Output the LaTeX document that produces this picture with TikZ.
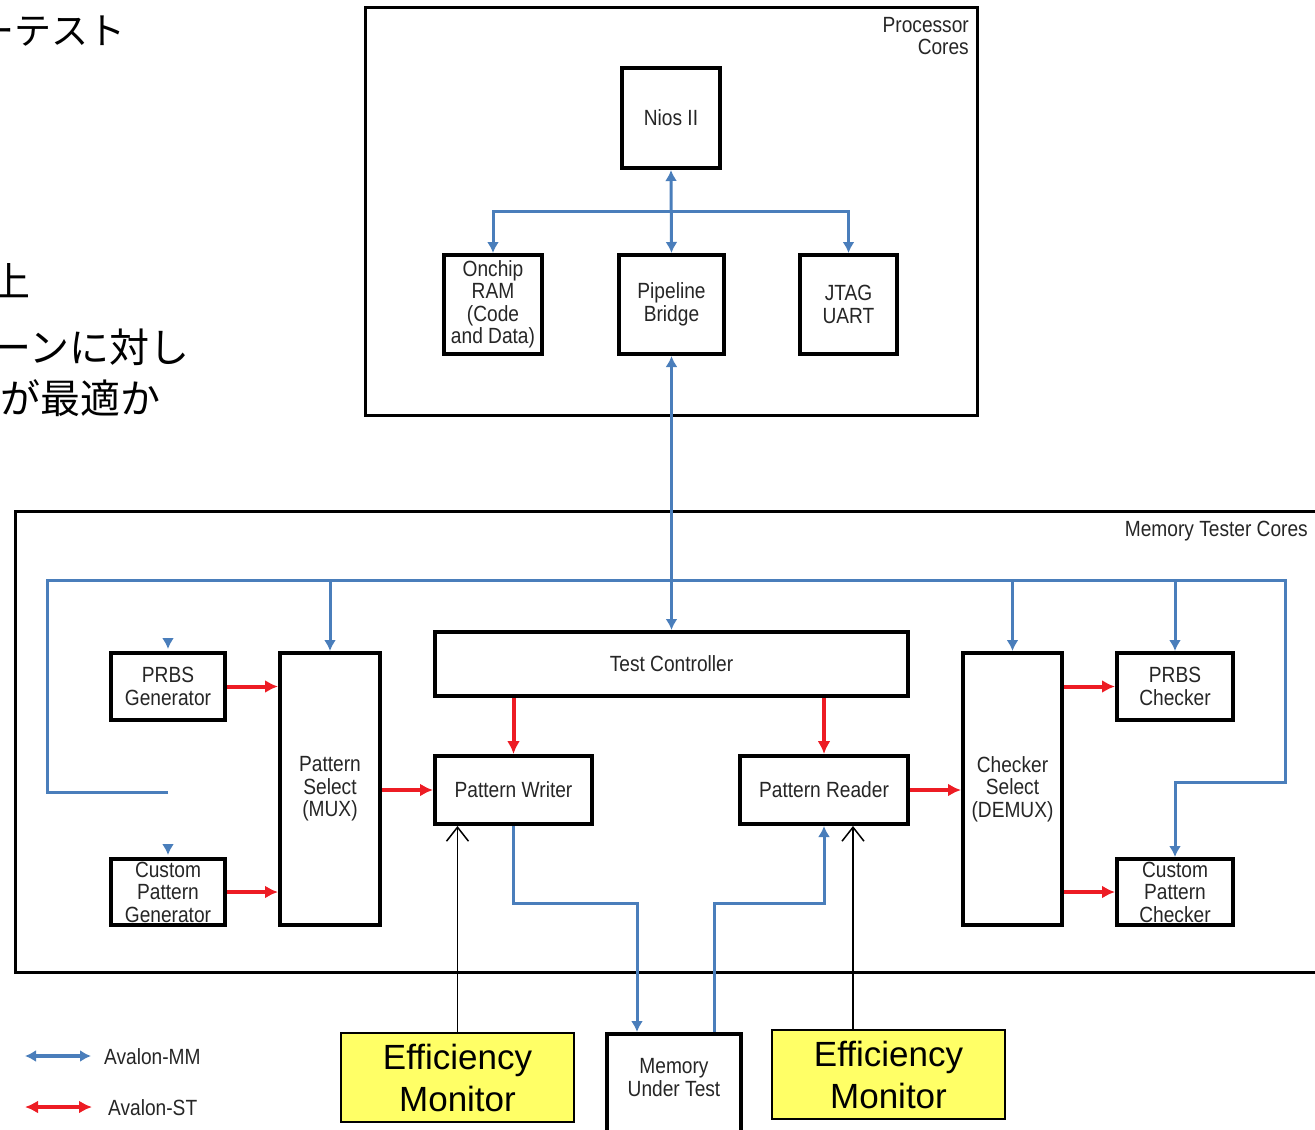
\documentclass[tikz,border=0pt]{standalone}
\usepackage{fontspec}
\setmainfont{Liberation Sans}
\newfontfamily\lblfont{Liberation Sans}[FakeStretch=0.87]
\newfontfamily\jpfont{Noto Sans CJK JP}
\usetikzlibrary{arrows.meta}
\definecolor{mmblue}{RGB}{74,126,187}
\definecolor{stred}{RGB}{237,28,36}
\definecolor{emyellow}{RGB}{255,255,102}
\begin{document}
\begin{tikzpicture}[x=1pt,y=-1pt,
  box/.style={draw=black,line width=4pt,fill=white,inner sep=0pt,align=center,
    font=\lblfont\fontsize{22}{22.5}\selectfont,text=black!85},
  sz/.style 2 args={minimum width=#1pt,minimum height=#2pt},
  lbl/.style={inner sep=0pt,font=\lblfont\fontsize{22}{22.5}\selectfont,text=black!85},
  embox/.style={draw=black,line width=2pt,fill=emyellow,inner sep=0pt,align=center,
    font=\fontsize{35}{42}\selectfont},
  jp/.style={inner sep=0pt,font=\jpfont\fontsize{40}{44}\selectfont,anchor=east},
  outer/.style={draw=black,line width=3pt},
  mm/.style={draw=mmblue,line width=3pt,>={Latex[length=11pt,width=12pt]}},
  st/.style={draw=stred,line width=4pt,>={Latex[length=13pt,width=13pt]}},
  mon/.style={draw=black,line width=1.5pt,>={Straight Barb[length=14pt,width=22pt]}}
]
\useasboundingbox (0,0) rectangle (1315,1130);

% Japanese slide text (cut off at the left edge, as in the slide)
\node[jp,font=\jpfont\fontsize{37}{40}\selectfont] (jp1) at (126,31) {ーテスト};
\node[jp] (jp2) at (31,281) {上};
\node[jp] (jp3) at (190,347) {ーンに対し};
\node[jp] (jp4) at (161,398) {が最適か};

% outer containers
\draw[outer] (365,7) rectangle (977,415);
\draw[outer] (15,511) rectangle (1330,972);
\node[lbl,anchor=east,align=right] (proclbl) at (969,36) {Processor\\Cores};
\node[lbl,anchor=east] (memlbl) at (1308,531) {Memory Tester Cores};

% processor cores
\node[box,sz={98}{100}] (nios) at (671,118) {Nios II};
\node[box,sz={98}{99}] (ram) at (493,304.5) {Onchip\\RAM\\(Code\\and Data)};
\node[box,sz={105}{99}] (bridge) at (671.5,304.5) {Pipeline\\Bridge};
\node[box,sz={97}{99}] (jtag) at (848.5,304.5) {JTAG\\UART};

% memory tester cores
\node[box,sz={114}{67}] (prbsgen) at (168,686.5) {PRBS\\Generator};
\node[box,sz={114}{66}] (cpgen) at (168,892) {Custom\\Pattern\\Generator};
\node[box,sz={100}{272}] (psel) at (330,789) {Pattern\\Select\\(MUX)};
\node[box,sz={473}{64}] (tc) at (671.5,664) {Test Controller};
\node[box,sz={157}{68}] (pw) at (513.5,790) {Pattern Writer};
\node[box,sz={168}{68}] (pr) at (824,790) {Pattern Reader};
\node[box,sz={99}{272}] (csel) at (1012.5,789) {Checker\\Select\\(DEMUX)};
\node[box,sz={116}{67}] (prbschk) at (1175,686.5) {PRBS\\Checker};
\node[box,sz={116}{66}] (cpchk) at (1175,892) {Custom\\Pattern\\Checker};

% external (Memory Under Test runs past the bottom edge)
\node[box,sz={134}{120},anchor=north] (mut) at (674,1032)
  {\begin{tabular}{@{}c@{}}Memory\\Under Test\end{tabular}\rule[-44pt]{0pt}{1pt}};
\node[embox,sz={233}{89}] (em1) at (457.5,1077.5) {Efficiency\\Monitor};
\node[embox,sz={233}{89}] (em2) at (888.5,1074.5) {Efficiency\\Monitor};

% named routing points
\coordinate (bus) at (671,211);
\coordinate (mmL) at (47,580);
\coordinate (mmR) at (1285,580);
\coordinate (mmEnd) at (168,792);
\coordinate (cpturn) at (1175,782);
\coordinate (w1) at (637,903);
\coordinate (r1) at (714,903);
\coordinate (m2) at (853,826);

% Avalon-MM (blue)
\draw[mm,<->] (nios.south) -- (bridge.north);
\draw[mm,->] (bus) -| (ram.north);
\draw[mm,->] (bus) -| (jtag.north);
\draw[mm,<->] (bridge.south) -- (tc.north);
\draw[mm,->] (mmEnd) -| (mmL) -- (mmR) |- (cpturn) -- (cpchk.north);
\draw[mm,->] (psel.north |- mmL) -- (psel.north);
\draw[mm,->] (csel.north |- mmL) -- (csel.north);
\draw[mm,->] (prbschk.north |- mmL) -- (prbschk.north);
\draw[mm,->] ([yshift=12pt]prbsgen.north) -- ([yshift=2pt]prbsgen.north);
\draw[mm,->] ([yshift=12pt]cpgen.north) -- ([yshift=2pt]cpgen.north);
\draw[mm,->] (pw.south) |- (w1) -- (w1 |- mut.north);
\draw[mm,->] (r1 |- mut.north) -- (r1) -| (pr.south);

% Avalon-ST (red)
\draw[st,->] (prbsgen.east) -- (prbsgen.east -| psel.west);
\draw[st,->] (cpgen.east) -- (cpgen.east -| psel.west);
\draw[st,->] (psel.east |- pw.west) -- (pw.west);
\draw[st,->] (pw.north |- tc.south) -- (pw.north);
\draw[st,->] (pr.north |- tc.south) -- (pr.north);
\draw[st,->] (pr.east) -- (pr.east -| csel.west);
\draw[st,->] (csel.east |- prbschk.west) -- (prbschk.west);
\draw[st,->] (csel.east |- cpchk.west) -- (cpchk.west);

% efficiency monitor probes
\draw[mon,->] (em1.north) -- (em1.north |- pw.south);
\draw[mon,->] (em2.north -| m2) -- (m2);

% legend
\coordinate (lgA1) at (25,1056);
\coordinate (lgA2) at (91,1056);
\coordinate (lgB1) at (25,1107);
\coordinate (lgB2) at (92,1107);
\draw[mm,line width=4pt,<->] (lgA1) -- (lgA2);
\draw[st,<->] (lgB1) -- (lgB2);
\node[lbl,anchor=west] (lgmm) at (104,1057) {Avalon-MM};
\node[lbl,anchor=west] (lgst) at (108,1108) {Avalon-ST};
\end{tikzpicture}
\end{document}
